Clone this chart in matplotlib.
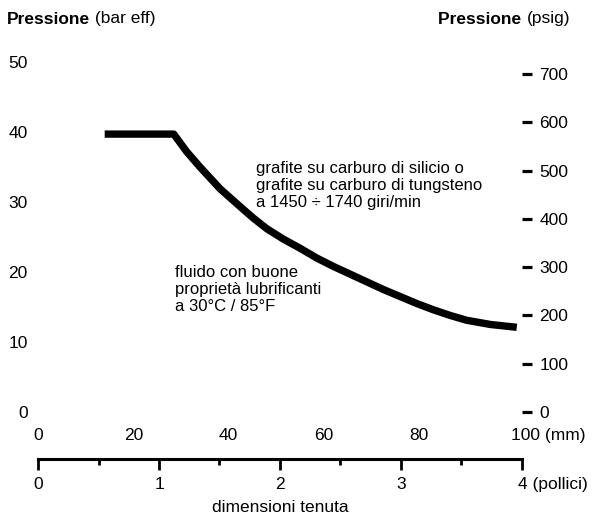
import matplotlib.pyplot as plt
from matplotlib.transforms import ScaledTranslation

# seal size (mm) vs max pressure (bar eff)
size_mm = [14, 28.5, 31.2, 34, 38.2, 42.5, 45.2, 48, 51.5, 55, 58.5, 62, 65.5,
           69, 72.5, 76, 79.5, 83, 86.5, 90, 95, 100.5]
press_bar = [39.7, 39.7, 37.2, 35.0, 31.9, 29.3, 27.7, 26.2, 24.7, 23.4, 22.0, 20.8, 19.7,
             18.6, 17.5, 16.5, 15.5, 14.6, 13.8, 13.1, 12.5, 12.1]

bar_ticks = [0, 10, 20, 30, 40, 50]
psig_ticks = [0, 100, 200, 300, 400, 500, 600, 700]
mm_ticks = [0, 20, 40, 60, 80, 100]
mm_labels = ['0', '20', '40', '60', '80', '100 (mm)']
inch_ticks = [0, 1, 2, 3, 4]
inch_labels = ['0', '1', '2', '3', '4 (pollici)']
inch_minor = [0.5, 1.5, 2.5, 3.5]

BAR_TO_PSI = 14.5038
MM_PER_INCH = 25.4


if __name__ == '__main__':
    plt.rcParams['font.family'] = ['Liberation Sans', 'DejaVu Sans']
    fs = 12.5

    fig = plt.figure(figsize=(5.94, 5.18), dpi=100)
    ax = fig.add_axes([38 / 594, 1 - 412 / 518, 484 / 594, 350 / 518])
    ax.set_xlim(0, 101.6)
    ax.set_ylim(0, 50)
    for s in ax.spines.values():
        s.set_visible(False)

    ax.plot(size_mm, press_bar, c='k', lw=5.3, solid_capstyle='butt',
            solid_joinstyle='round', clip_on=False)

    # left axis: bar
    ax.set_yticks(bar_ticks)
    ax.tick_params(axis='y', length=0, pad=7.5, labelsize=fs)

    # bottom labels: mm
    ax.set_xticks(mm_ticks)
    ax.set_xticklabels(mm_labels)
    ax.tick_params(axis='x', length=0, pad=11.5, labelsize=fs)
    lab = ax.get_xticklabels()[-1]
    lab.set_horizontalalignment('left')
    lab.set_transform(lab.get_transform() + ScaledTranslation(-3 / 100, 0, fig.dpi_scale_trans))

    # right axis: psig
    secy = ax.secondary_yaxis('right', functions=(lambda b: b * BAR_TO_PSI,
                                                  lambda p: p / BAR_TO_PSI))
    secy.set_yticks(psig_ticks)
    secy.spines['right'].set_visible(False)
    secy.tick_params(length=7, width=2.3, pad=5.5, labelsize=fs)

    # inch scale below
    secx = ax.secondary_xaxis(-47 / 350, functions=(lambda m: m / MM_PER_INCH,
                                                    lambda i: i * MM_PER_INCH))
    secx.set_xticks(inch_ticks)
    secx.set_xticklabels(inch_labels)
    secx.set_xticks(inch_minor, minor=True)
    secx.spines['bottom'].set_linewidth(2.2)
    secx.tick_params(which='major', length=8, width=2, pad=5, labelsize=fs)
    secx.tick_params(which='minor', length=4.5, width=2)
    lab = secx.get_xticklabels()[-1]
    lab.set_horizontalalignment('left')
    lab.set_transform(lab.get_transform() + ScaledTranslation(-4 / 100, 0, fig.dpi_scale_trans))
    secx.set_xlabel('dimensioni tenuta', fontsize=fs, labelpad=6)

    # header labels
    t1 = fig.text(7 / 594, 1 - 19 / 518, 'Pressione', fontsize=fs, weight='bold', va='center')
    ax.annotate(' (bar eff)', xy=(1, 0), xycoords=t1, va='bottom', ha='left', fontsize=fs)
    t2 = fig.text(570 / 594, 1 - 19 / 518, '(psig)', fontsize=fs, va='center', ha='right')
    ax.annotate('Pressione ', xy=(0, 0), xycoords=t2, va='bottom', ha='right',
                fontsize=fs, weight='bold')

    ax.text(45.7, 35.8, 'grafite su carburo di silicio o\ngrafite su carburo di tungsteno\n'
            'a 1450 ÷ 1740 giri/min', fontsize=12, va='top', ha='left', linespacing=1.15)
    ax.text(28.8, 21.0, 'fluido con buone\nproprietà lubrificanti\na 30°C / 85°F',
            fontsize=12, va='top', ha='left', linespacing=1.15)

    plt.savefig('out.png', dpi=100)
